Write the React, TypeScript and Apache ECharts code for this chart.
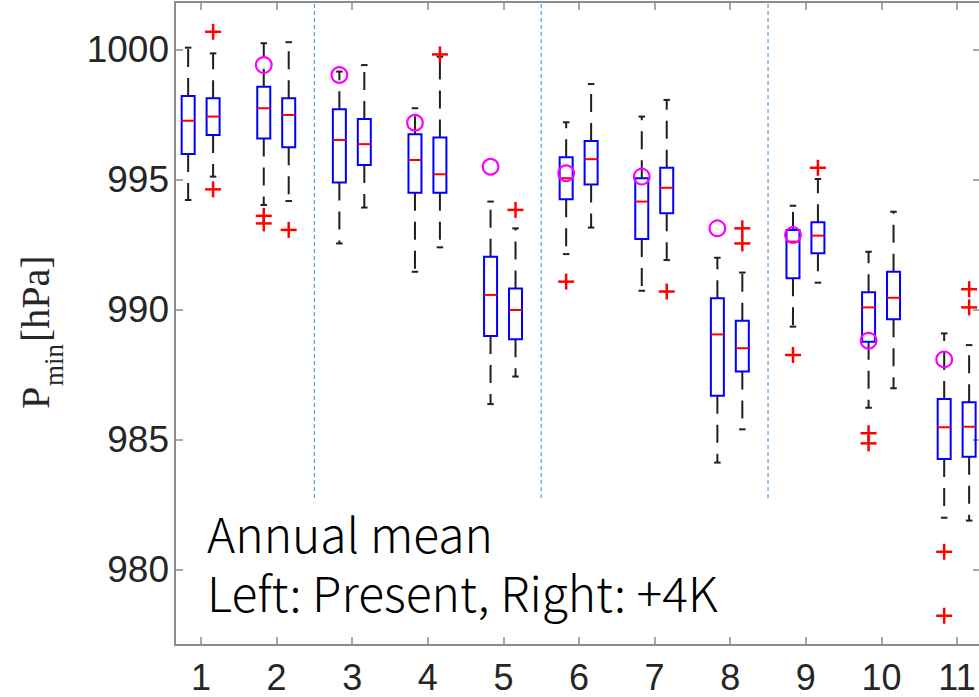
import React, { useEffect, useRef } from 'react';
import * as echarts from 'echarts';

// Site numbers shown on the horizontal axis
const sites = ['1', '2', '3', '4', '5', '6', '7', '8', '9', '10', '11'];
const siteTicks = [1, 2, 3, 4, 5, 6, 7, 8, 9, 10, 11];
const pressureTicks = [980, 985, 990, 995, 1000];

// Box statistics per site: [lower whisker, Q1, median, Q3, upper whisker] (hPa)
const presentBoxes = [
  [994.23, 996.0, 997.28, 998.23, 1000.09],
  [994.04, 996.6, 997.76, 998.59, 1000.26],
  [992.56, 994.9, 996.54, 997.72, 999.17],
  [991.47, 994.51, 995.77, 996.76, 997.76],
  [986.38, 989.0, 990.58, 992.05, 994.17],
  [992.15, 994.26, 995.07, 995.87, 997.22],
  [990.74, 992.73, 994.17, 995.07, 997.44],
  [984.13, 986.7, 989.06, 990.45, 992.01],
  [989.36, 991.22, 992.63, 993.08, 994.01],
  [986.24, 988.78, 990.1, 990.68, 992.24],
  [982.01, 984.27, 985.49, 986.58, 989.1],
];
const futureBoxes = [
  [995.13, 996.73, 997.44, 998.14, 999.87],
  [994.19, 996.26, 997.5, 998.14, 1000.3],
  [993.94, 995.58, 996.38, 997.35, 999.42],
  [992.41, 994.51, 995.22, 996.63, 999.74],
  [987.44, 988.87, 990.0, 990.83, 993.14],
  [993.17, 994.83, 995.8, 996.5, 998.69],
  [991.92, 993.72, 994.7, 995.47, 998.08],
  [985.41, 987.63, 988.53, 989.59, 991.44],
  [991.05, 992.18, 992.86, 993.37, 995.04],
  [986.99, 989.64, 990.47, 991.47, 993.78],
  [981.9, 984.36, 985.51, 986.45, 988.65],
];

// Outliers: [site, value]
const presentOutliers = [
  [2, 993.62], [2, 993.33], [6, 991.09], [9, 988.27],
  [10, 985.26], [10, 984.87], [11, 980.7], [11, 978.24],
];
const futureOutliers = [
  [1, 1000.7], [1, 994.64], [2, 993.08], [4, 999.83], [5, 993.85],
  [7, 990.71], [8, 993.14], [8, 992.56], [9, 995.47], [11, 990.8], [11, 990.1],
];

// Observed values per site (null where none)
const observed = [null, 999.42, 999.04, 997.2, 995.51, 995.26, 995.13, 993.14, 992.88, 988.82, 988.1];

// Region separators
const dividers = [2.5, 5.5, 8.5];
const dividerBottom = 982.77;

// Axis extents
const X_MIN = 0.656;
const X_MAX = 11.317;
const Y_MIN = 977.115;
const Y_MAX = 1001.846;

// Placement of the paired boxes around each site
const PRESENT_SHIFT = -0.17;
const FUTURE_SHIFT = 0.16;
const BOX_WIDTH = 0.172;

const AXIS_GRAY = '#8c8c8c';
const LABEL_COLOR = '#262626';

function renderBox(_params: any, api: any) {
  const x = api.value(0);
  const lo = api.coord([x, api.value(1)]);
  const q1 = api.coord([x, api.value(2)]);
  const md = api.coord([x, api.value(3)]);
  const q3 = api.coord([x, api.value(4)]);
  const hi = api.coord([x, api.value(5)]);
  const half = api.size([BOX_WIDTH, 0])[0] / 2;
  const cap = half / 2;
  const cx = lo[0];
  const whisker = { stroke: '#1f1f1f', lineWidth: 2, lineDash: [18, 11], fill: null };
  const capStyle = { stroke: '#1f1f1f', lineWidth: 2, fill: null };
  return {
    type: 'group',
    children: [
      { type: 'line', shape: { x1: cx, y1: q3[1], x2: cx, y2: hi[1] }, style: whisker },
      { type: 'line', shape: { x1: cx, y1: q1[1], x2: cx, y2: lo[1] }, style: whisker },
      { type: 'line', shape: { x1: cx - cap, y1: hi[1], x2: cx + cap, y2: hi[1] }, style: capStyle },
      { type: 'line', shape: { x1: cx - cap, y1: lo[1], x2: cx + cap, y2: lo[1] }, style: capStyle },
      {
        type: 'rect',
        shape: { x: cx - half, y: q3[1], width: half * 2, height: q1[1] - q3[1] },
        style: { fill: 'none', stroke: '#0000ff', lineWidth: 2 },
      },
      {
        type: 'line',
        shape: { x1: cx - half, y1: md[1], x2: cx + half, y2: md[1] },
        style: { stroke: '#ff0000', lineWidth: 2 },
      },
    ],
  };
}

function renderPlus(_params: any, api: any) {
  const p = api.coord([api.value(0), api.value(1)]);
  const s = 8;
  const st = { stroke: '#ff0000', lineWidth: 2.5 };
  return {
    type: 'group',
    children: [
      { type: 'line', shape: { x1: p[0] - s, y1: p[1], x2: p[0] + s, y2: p[1] }, style: st },
      { type: 'line', shape: { x1: p[0], y1: p[1] - s, x2: p[0], y2: p[1] + s }, style: st },
    ],
  };
}

function renderCircle(_params: any, api: any) {
  const p = api.coord([api.value(0), api.value(1)]);
  return {
    type: 'circle',
    shape: { cx: p[0], cy: p[1], r: 7.8 },
    style: { fill: 'none', stroke: '#ff00ff', lineWidth: 2.2 },
  };
}

function renderDivider(_params: any, api: any) {
  const x = api.value(0);
  const b = api.coord([x, dividerBottom]);
  const t = api.coord([x, Y_MAX]);
  return {
    type: 'line',
    shape: { x1: b[0], y1: b[1], x2: t[0], y2: t[1] },
    style: { stroke: '#4f9fe3', lineWidth: 1.2, lineDash: [4, 3] },
  };
}

function xAxisDef(position: 'bottom' | 'top', labels: boolean) {
  return {
    type: 'value',
    position,
    min: X_MIN,
    max: X_MAX,
    splitLine: { show: false },
    axisLine: { show: true, onZero: false, lineStyle: { color: AXIS_GRAY, width: 2 } },
    axisTick: {
      show: true,
      inside: true,
      length: 8,
      customValues: siteTicks,
      lineStyle: { color: AXIS_GRAY, width: 1.5 },
    },
    axisLabel: {
      show: labels,
      customValues: siteTicks,
      formatter: (v: number) => sites[Math.round(v) - 1] ?? '',
      fontSize: 36,
      fontFamily: 'Liberation Sans',
      color: LABEL_COLOR,
      margin: 14,
    },
  };
}

function yAxisDef(position: 'left' | 'right', labels: boolean) {
  return {
    type: 'value',
    position,
    min: Y_MIN,
    max: Y_MAX,
    splitLine: { show: false },
    axisLine: { show: true, onZero: false, lineStyle: { color: AXIS_GRAY, width: 2 } },
    axisTick: {
      show: true,
      inside: true,
      length: 8,
      customValues: pressureTicks,
      lineStyle: { color: AXIS_GRAY, width: 1.5 },
    },
    axisLabel: {
      show: labels,
      customValues: pressureTicks,
      formatter: (v: number) => String(Math.round(v)),
      fontSize: 37,
      fontFamily: 'Liberation Sans',
      color: LABEL_COLOR,
      margin: 6,
    },
  };
}

export default function App() {
  const ref = useRef<HTMLDivElement>(null);

  useEffect(() => {
    if (!ref.current) return;
    const chart = echarts.init(ref.current, null, { renderer: 'svg' });

    const presentData = presentBoxes.map((s, i) => [i + 1 + PRESENT_SHIFT, ...s]);
    const futureData = futureBoxes.map((s, i) => [i + 1 + FUTURE_SHIFT, ...s]);
    const outlierData = [
      ...presentOutliers.map(([site, v]) => [site + PRESENT_SHIFT, v]),
      ...futureOutliers.map(([site, v]) => [site + FUTURE_SHIFT, v]),
    ];
    const observedData = observed
      .map((v, i) => (v == null ? null : [i + 1 + PRESENT_SHIFT, v]))
      .filter((d) => d !== null);

    const serif = 'Liberation Serif';
    const titleColor = '#262626';
    const noteFont = 'Noto Sans CJK JP';
    const align = { align: 'left', verticalAlign: 'middle', textAlign: 'left', textVerticalAlign: 'middle' };

    chart.setOption({
      animation: false,
      backgroundColor: '#ffffff',
      grid: { left: 175, top: 2, right: -2, bottom: 52, containLabel: false, outerBoundsMode: 'none' },
      xAxis: [xAxisDef('bottom', true), xAxisDef('top', false)],
      yAxis: [yAxisDef('left', true), yAxisDef('right', false)],
      series: [
        {
          type: 'custom',
          name: 'dividers',
          renderItem: renderDivider,
          data: dividers.map((d) => [d]),
          encode: { x: 0 },
          clip: false,
          silent: true,
          z: 1,
        },
        {
          type: 'custom',
          name: 'Present',
          renderItem: renderBox,
          data: presentData,
          encode: { x: 0, y: [1, 2, 3, 4, 5] },
          clip: false,
          z: 2,
        },
        {
          type: 'custom',
          name: '+4K',
          renderItem: renderBox,
          data: futureData,
          encode: { x: 0, y: [1, 2, 3, 4, 5] },
          clip: false,
          z: 2,
        },
        {
          type: 'custom',
          name: 'outliers',
          renderItem: renderPlus,
          data: outlierData,
          encode: { x: 0, y: 1 },
          clip: false,
          z: 3,
        },
        {
          type: 'custom',
          name: 'observed',
          renderItem: renderCircle,
          data: observedData,
          encode: { x: 0, y: 1 },
          clip: false,
          z: 4,
        },
      ],
      graphic: [
        {
          type: 'group',
          x: 48,
          y: 409,
          rotation: Math.PI / 2,
          children: [
            {
              type: 'text',
              x: 0,
              y: -13,
              style: { text: 'P', fontSize: 40, fontFamily: serif, fill: titleColor, ...align },
            },
            {
              type: 'text',
              x: 23,
              y: 6,
              style: { text: 'min', fontSize: 27, fontFamily: serif, fill: titleColor, ...align },
            },
            {
              type: 'text',
              x: 67,
              y: -13,
              style: { text: '[hPa]', fontSize: 40, fontFamily: serif, fill: titleColor, ...align },
            },
          ],
        },
        {
          type: 'text',
          x: 207,
          y: 561.5,
          style: {
            text: 'Annual mean\nLeft: Present, Right: +4K',
            fontSize: 48,
            lineHeight: 59,
            fontWeight: 300,
            fontFamily: noteFont,
            fill: '#000',
            ...align,
          },
        },
      ],
    });

    return () => chart.dispose();
  }, []);

  return (
    <div
      ref={ref}
      style={{ position: 'absolute', left: 0, top: 0, width: 979, height: 697, background: '#fff' }}
    />
  );
}
